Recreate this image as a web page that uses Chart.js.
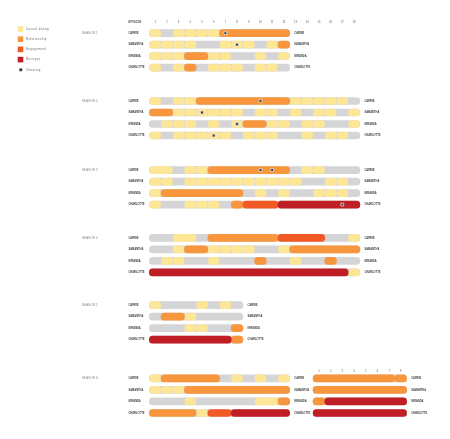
<!DOCTYPE html>
<html>
<head>
<meta charset="utf-8">
<script src="https://cdn.jsdelivr.net/npm/chart.js@4.4.0/dist/chart.umd.min.js"></script>
<style>
html, body { margin: 0; padding: 0; background: #fff; }
#wrap { width: 450px; height: 439px; }
</style>
</head>
<body>
<div id="wrap"><canvas id="chartSATC" width="450" height="439"></canvas></div>
<script>
var women = ['CARRIE', 'SAMANTHA', 'MIRANDA', 'CHARLOTTE'];
var seasonNames = ['SEASON 1', 'SEASON 2', 'SEASON 3', 'SEASON 4', 'SEASON 5', 'SEASON 6'];
var legendNames = ['Casual dating', 'Relationship', 'Engagement', 'Marriage', 'Cheating'];

// one letter per episode: c casual dating, r relationship, e engagement, m marriage, . nothing
// a change of letter case starts a new pill (another man)
var season1 = ['c.CcCcRRRRRR', 'CcCc..cCc.cR', 'cCcRRcC..c.c', 'c.cR.cCc.cC.'];
var season2 = ['c.cCRRRRRRRRcCcCc.', 'RRcCcCcC.cC.c.cC.c', '.cCc.c.cRRcC.cC..c', 'c.cCcCc.cCc..c.cC.'];
var season3 = ['CC.cCRRRRRRR.cC...', 'cC.cCcCcCcCcC..cC.', 'cRRRRRRR.c.c..cCc.', 'c..cCc.REEEMMMMMMM'];
var season4 = ['..CC.RRRRRREEEE..c', '..cRRcCcC..cRRRRRR', '.cC..c...R..c..R..', 'MMMMMMMMMMMMMMMMMc'];
var season5 = ['c...c.c.', '.RRc....', '...cC..R', 'MMMMMMMR'];
var season6 = ['cRRRRR.c.c.c', 'cCcRRRRRRRRR', '...c.....CCR', 'RRRRcEEMMMMM'];
var season6b = ['RRRRRRRr', 'RRRRRRRR', 'RMMMMMMM', 'MMMMMMMM'];

// episodes with cheating, per woman
var cheat1 = [[7], [8], [], []];
var cheat2 = [[10], [5], [8], [6]];
var cheat3 = [[10, 11], [], [], [17]];

var colors = {
    c: '#FEE697',
    r: '#F7963C',
    e: '#F15A25',
    m: '#BE1E24'
};
var trackColor = '#D5D5D7';
var cheatColor = '#1E3557';

// layout
var X0 = 147.7, COLW = 11.95, Y0 = 29, ROWH = 11.77;
var seasonRow = [0, 5.89, 11.89, 17.78, 23.62, 29.99];

var blocks = [
    { rows: season1, cheats: cheat1, base: seasonRow[0], off: 0, season: 0 },
    { rows: season2, cheats: cheat2, base: seasonRow[1], off: 0, season: 1 },
    { rows: season3, cheats: cheat3, base: seasonRow[2], off: 0, season: 2 },
    { rows: season4, cheats: null, base: seasonRow[3], off: 0, season: 3 },
    { rows: season5, cheats: null, base: seasonRow[4], off: 0, season: 4 },
    { rows: season6, cheats: null, base: seasonRow[5], off: 0, season: 5 },
    { rows: season6b, cheats: null, base: seasonRow[5], off: 14, season: -1 }
];

var tracks = [];
var pills = { c: [], r: [], e: [], m: [] };
var cheats = [];

blocks.forEach(function (b) {
    b.rows.forEach(function (str, w) {
        var y = b.base + w;
        tracks.push({ x: [b.off, b.off + str.length], y: y });
        var i = 0;
        while (i < str.length) {
            var ch = str[i];
            var j = i;
            while (j + 1 < str.length && str[j + 1] === ch) j++;
            var kind = ch.toLowerCase();
            if (pills[kind]) {
                var inset = kind === 'c' ? 0.03 : 0;
                pills[kind].push({ x: [b.off + i + inset, b.off + j + 1 - inset], y: y });
            }
            i = j + 1;
        }
        if (b.cheats) {
            b.cheats[w].forEach(function (ep) {
                cheats.push({ x: b.off + ep - 0.5, y: y });
            });
        }
    });
});

function barSet(data, color, order) {
    return {
        type: 'bar',
        indexAxis: 'y',
        grouped: false,
        barThickness: 7,
        borderRadius: 4,
        borderSkipped: false,
        backgroundColor: color,
        data: data,
        order: order
    };
}

var labelsPlugin = {
    id: 'labels',
    afterDatasetsDraw: function (chart) {
        var ctx = chart.ctx, xs = chart.scales.x, ys = chart.scales.y;
        ctx.save();
        ctx.textBaseline = 'middle';

        // legend
        var legY = [29, 39.2, 49.4, 59.6, 69.8];
        ['c', 'r', 'e', 'm'].forEach(function (k, i) {
            ctx.fillStyle = colors[k];
            ctx.fillRect(17.7, legY[i] - 2.8, 5.6, 5.6);
        });
        ctx.fillStyle = '#E6E3D6';
        ctx.fillRect(18.9, legY[4] - 1.9, 3.8, 3.8);
        ctx.fillStyle = cheatColor;
        ctx.fillRect(19.5, legY[4] - 1.3, 2.6, 2.6);
        ctx.font = '2.8px "Liberation Sans"';
        ctx.letterSpacing = '0.45px';
        ctx.fillStyle = '#666';
        ctx.textAlign = 'left';
        legendNames.forEach(function (t, i) {
            ctx.fillText(t, 26, legY[i]);
        });

        // episode header
        var topY = ys.getPixelForValue(0) - 11;
        ctx.font = 'bold 2.6px "Liberation Sans"';
        ctx.letterSpacing = '0.2px';
        ctx.fillStyle = '#444';
        ctx.fillText('EPISODE', 128.5, topY);
        ctx.font = '2.6px "Liberation Sans"';
        ctx.letterSpacing = '0px';
        ctx.textAlign = 'center';
        ctx.fillStyle = '#555';
        for (var e = 1; e <= 18; e++) {
            ctx.fillText(String(e), xs.getPixelForValue(e - 0.5), topY);
        }
        var s6y = ys.getPixelForValue(seasonRow[5]) - 7;
        for (var e2 = 1; e2 <= 8; e2++) {
            ctx.fillText(String(e2), xs.getPixelForValue(14 + e2 - 0.5), s6y);
        }

        blocks.forEach(function (b) {
            var len = b.rows[0].length;
            var endX = xs.getPixelForValue(b.off + len) + 4.6;
            if (b.season >= 0) {
                ctx.textAlign = 'left';
                ctx.font = '2.7px "Liberation Sans"';
                ctx.letterSpacing = '0.3px';
                ctx.fillStyle = '#777';
                ctx.fillText(seasonNames[b.season], 82, ys.getPixelForValue(b.base));
            }
            ctx.font = 'bold 2.6px "Liberation Sans"';
            ctx.letterSpacing = '0px';
            ctx.fillStyle = '#444';
            women.forEach(function (name, w) {
                var py = ys.getPixelForValue(b.base + w);
                if (b.off === 0) ctx.fillText(name, 128.5, py);
                ctx.fillText(name, endX, py);
            });
        });
        ctx.restore();
    }
};

var ctx = document.getElementById('chartSATC');
var myChart = new Chart(ctx, {
    type: 'bar',
    data: {
        datasets: [
            barSet(tracks, trackColor, 5),
            barSet(pills.c, colors.c, 4),
            barSet(pills.r, colors.r, 3),
            barSet(pills.e, colors.e, 2),
            barSet(pills.m, colors.m, 1),
            {
                type: 'scatter',
                data: cheats,
                pointStyle: 'rect',
                pointRadius: 2,
                pointBorderWidth: 0.8,
                pointBackgroundColor: cheatColor,
                pointBorderColor: '#E6E3D6',
                order: 0
            }
        ]
    },
    options: {
        responsive: false,
        devicePixelRatio: 1,
        animation: false,
        layout: { padding: 0 },
        plugins: {
            legend: { display: false },
            tooltip: { enabled: false }
        },
        scales: {
            // bar charts switch offset on for the index axis, which would shrink the layout
            x: {
                type: 'linear',
                display: false,
                offset: false,
                min: -X0 / COLW,
                max: (450 - X0) / COLW
            },
            y: {
                type: 'linear',
                display: false,
                offset: false,
                reverse: true,
                min: -Y0 / ROWH,
                max: (439 - Y0) / ROWH
            }
        }
    },
    plugins: [labelsPlugin]
});
</script>
</body>
</html>
